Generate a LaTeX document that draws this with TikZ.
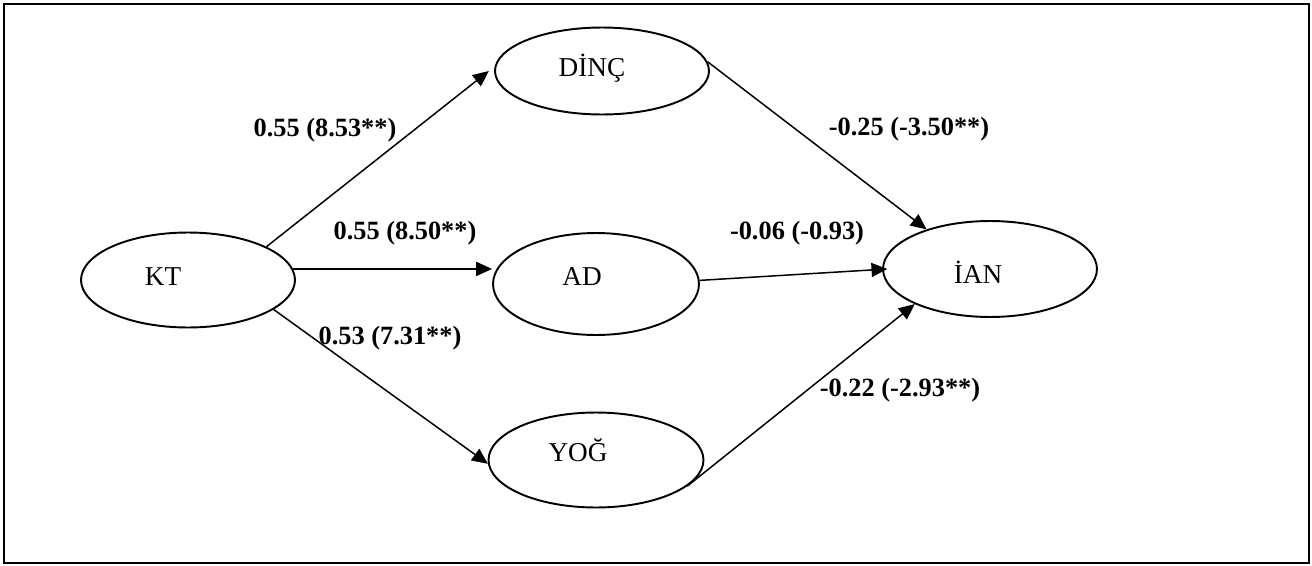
\documentclass[tikz,border=0pt]{standalone}
\usepackage{fontspec}
\setmainfont{Liberation Serif}
\usetikzlibrary{shapes.geometric,arrows.meta}
\tikzset{
  var/.style={draw, ellipse, line width=1.1pt, inner sep=0pt},
  vtext/.style={font=\fontsize{15.5}{18}\selectfont},
  coef/.style={font=\fontsize{15}{18}\selectfont\bfseries},
  arr/.style={line width=0.85pt, -{Triangle[length=9pt,width=8pt]}}
}
\begin{document}
\begin{tikzpicture}[x=0.02cm, y=-0.02cm]
        \useasboundingbox (0,0) rectangle (1312,565);
        \draw[line width=1.5pt] (4,4) rectangle (1309,563);
        % latent variables
        \node[var, minimum width=4.28cm, minimum height=1.9cm] (kt) at (188,280) {};
        \node[var, minimum width=4.28cm, minimum height=1.74cm] (dinc) at (602,71) {};
        \node[var, minimum width=4.12cm, minimum height=2.04cm] (ad) at (596,284) {};
        \node[var, minimum width=4.3cm, minimum height=1.9cm] (yog) at (596,460) {};
        \node[var, minimum width=4.28cm, minimum height=1.92cm] (ian) at (990,269) {};
        \node[vtext] (kt-t) at (163,277) {KT};
        \node[vtext] (dinc-t) at (592,68) {DİNÇ};
        \node[vtext] (ad-t) at (582,277) {AD};
        \node[vtext] (yog-t) at (578,450) {YOĞ};
        \node[vtext] (ian-t) at (978,272) {İAN};
        % paths
        \coordinate (ad-in) at (kt.6 -| ad.west);
        \draw[arr] (kt.23) -- ([xshift=-3pt]dinc.west);
        \draw[arr] (kt.6) -- (ad-in);
        \draw[arr] (kt.-19) -- (yog.182);
        \draw[arr] (dinc.5) -- (ian.148);
        \draw[arr] (ad.2) -- ([xshift=3pt]ian.west);
        \draw[arr] (yog.-16) -- (ian.205);
        % coefficients
        \node[coef] (c1) at (325,130) {0.55 (8.53**)};
        \node[coef] (c2) at (405,233) {0.55 (8.50**)};
        \node[coef] (c3) at (390,338) {0.53 (7.31**)};
        \node[coef] (c4) at (909,129) {-0.25 (-3.50**)};
        \node[coef] (c5) at (797,233) {-0.06 (-0.93)};
        \node[coef] (c6) at (900,390) {-0.22 (-2.93**)};
    \end{tikzpicture}
\end{document}
